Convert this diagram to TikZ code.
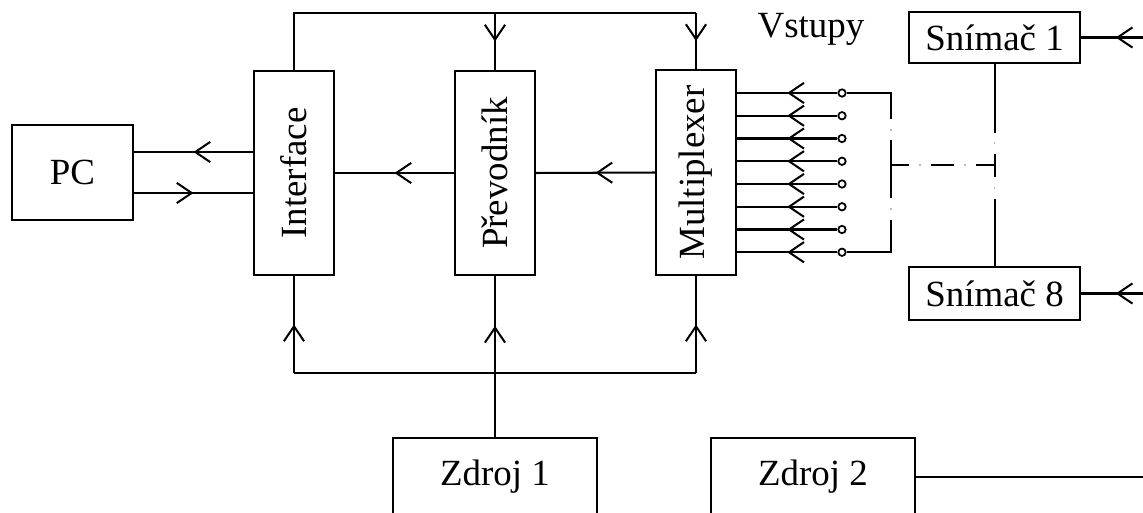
\documentclass[tikz,border=0pt]{standalone}
\usepackage{fontspec}
\setmainfont{Liberation Serif}
\usetikzlibrary{arrows.meta,decorations.markings}
\tikzset{
  box/.style={draw, line width=1.15pt, inner sep=0pt},
  lbl/.style={font=\fontsize{21}{25}\selectfont, inner sep=0pt},
  wire/.style={line width=1.15pt},
  arr/.style={wire, postaction={decorate}, decoration={markings, mark=at position #1 with {\arrow{Straight Barb[length=8.5pt,width=11.5pt]}}}},
  term/.style={circle, draw, line width=1pt, inner sep=0pt, minimum size=4.2pt, fill=white},
  faint/.style={line width=1pt, gray!55},
}
\begin{document}
\begin{tikzpicture}[x=0.02cm,y=-0.02cm]
\useasboundingbox (0,0) rectangle (1143,513);
\clip (0,0) rectangle (1143,513);

% boxes
\node[box, lbl, minimum width=2.42cm, minimum height=1.9cm] (PC) at (72.5,172.5) {PC};
\node[box, minimum width=1.6cm, minimum height=4.08cm] (I) at (294,173) {};
\node[box, minimum width=1.6cm, minimum height=4.08cm] (P) at (495,173) {};
\node[box, minimum width=1.6cm, minimum height=4.1cm] (M) at (696,172.5) {};
\node[lbl, rotate=90] (Il) at (I.center) {Interface};
\node[lbl, rotate=90] (Pl) at (P.center) {Převodník};
\node[lbl, rotate=90] (Ml) at (M.center) {Multiplexer};
\node[box, lbl, minimum width=4.08cm, minimum height=1.56cm] (Z1) at (495,477) {Zdroj 1};
\node[box, lbl, minimum width=4.08cm, minimum height=1.56cm] (Z2) at (813,477) {Zdroj 2};
\node[box, lbl, minimum width=3.42cm, minimum height=1.02cm] (S1) at (994.5,37.5) {Snímač 1};
\node[box, lbl, minimum width=3.42cm, minimum height=1.06cm] (S8) at (994.5,293.5) {Snímač 8};
\node[lbl, anchor=base] (vst) at (811,38) {Vstupy};

% PC <-> Interface
\coordinate (ya) at (0,152);
\coordinate (yb) at (0,193);
\draw[arr=0.5] (I.west |- ya) -- (PC.east |- ya);
\draw[arr=0.5] (PC.east |- yb) -- (I.west |- yb);

% data path
\draw[arr=0.5] (P.west) -- (I.east);
\draw[arr=0.5] (M.west) -- (P.east);

% top control bus
\coordinate (ty) at (0,13);
\draw[wire] (I.north) -- (I.north |- ty) -- (M.north |- ty);
\draw[arr=0.5] (P.north |- ty) -- (P.north);
\draw[arr=0.5] (M.north |- ty) -- (M.north);

% bottom power bus
\coordinate (by) at (0,373);
\draw[wire] (I.south |- by) -- (M.south |- by);
\draw[arr=0.5] (I.south |- by) -- (I.south);
\draw[arr=0.5] (M.south |- by) -- (M.south);
\draw[arr=0.69] (Z1.north) -- (P.south);

% Zdroj 2 output
\coordinate (z2end) at (1143,477);
\draw[wire] (Z2.east) -- (z2end);

% sensor inputs
\coordinate (s1end) at (1143,37.5);
\coordinate (s8end) at (1143,293.5);
\draw[arr=0.44] (s1end) -- (S1.east);
\draw[arr=0.44] (s8end) -- (S8.east);

% multiplexer inputs
\foreach \i in {1,...,8} {
  \pgfmathsetmacro\yy{93+(\i-1)*22.75}
  \node[term] (t\i) at (842,\yy) {};
  \draw[arr=0.5] (t\i.west) -- (M.east |- t\i);
}

% bracket (dash-dot)
\coordinate (bx) at (891,0);
\draw[wire] (t1.east) -- (t1 -| bx) -- (891,119);
\draw[wire] (t8.east) -- (t8 -| bx) -- (891,220);
\draw[wire] (891,140) -- (891,198);
\draw[faint] (891,129) -- (891,131);
\draw[faint] (891,208) -- (891,210);

% horizontal dash-dot link
\draw[wire] (891,165) -- (909,165);
\draw[faint] (919,165) -- (921,165);
\draw[wire] (931,165) -- (954,165);
\draw[faint] (964,165) -- (966,165);
\draw[wire] (976,165) -- (994.5,165);

% sensor bus (dash-dot)
\draw[wire] (S1.south) -- (994.5,133);
\draw[faint] (994.5,142) -- (994.5,144);
\draw[wire] (994.5,154) -- (994.5,177);
\draw[faint] (994.5,187) -- (994.5,189);
\draw[wire] (994.5,199) -- (S8.north);
\end{tikzpicture}
\end{document}
